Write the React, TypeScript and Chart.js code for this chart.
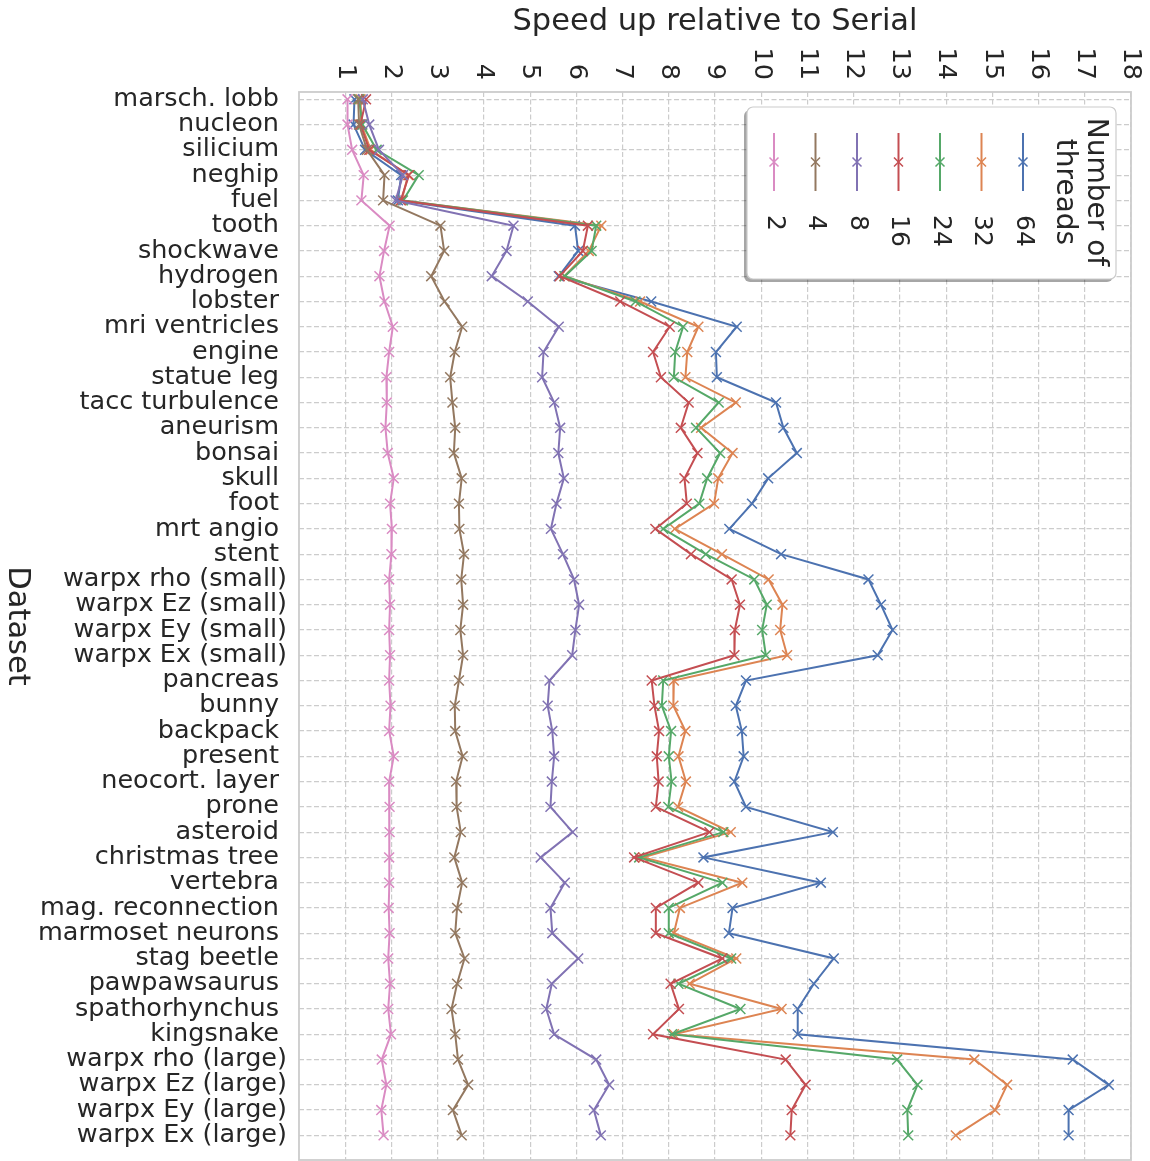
import React, { useEffect, useRef } from "react";
import { Chart, registerables } from "chart.js";

Chart.register(...registerables);

const datasetNames = [
  "marsch. lobb", "nucleon", "silicium", "neghip", "fuel", "tooth", "shockwave", "hydrogen",
  "lobster", "mri ventricles", "engine", "statue leg", "tacc turbulence", "aneurism", "bonsai",
  "skull", "foot", "mrt angio", "stent", "warpx rho (small)", "warpx Ez (small)",
  "warpx Ey (small)", "warpx Ex (small)", "pancreas", "bunny", "backpack", "present",
  "neocort. layer", "prone", "asteroid", "christmas tree", "vertebra", "mag. reconnection",
  "marmoset neurons", "stag beetle", "pawpawsaurus", "spathorhynchus", "kingsnake",
  "warpx rho (large)", "warpx Ez (large)", "warpx Ey (large)", "warpx Ex (large)",
];

const threadCounts = ["2", "4", "8", "16", "24", "32", "64"];
const xTickValues = [1, 2, 3, 4, 5, 6, 7, 8, 9, 10, 11, 12, 13, 14, 15, 16, 17, 18];

const speedup2 = [1.05, 1.05, 1.15, 1.40, 1.35, 1.96, 1.84, 1.74, 1.85, 2.03, 1.95, 1.89, 1.90, 1.87, 1.92, 2.05, 1.97, 2.01, 2.00, 1.95, 1.97, 1.95, 1.97, 1.95, 1.98, 1.95, 2.05, 1.95, 1.96, 1.96, 1.95, 1.95, 1.94, 1.96, 1.93, 1.97, 1.93, 1.99, 1.79, 1.89, 1.78, 1.83];
const speedup4 = [1.28, 1.30, 1.47, 1.85, 1.82, 3.06, 3.14, 2.86, 3.15, 3.53, 3.37, 3.27, 3.32, 3.38, 3.35, 3.52, 3.46, 3.47, 3.57, 3.51, 3.55, 3.49, 3.55, 3.46, 3.37, 3.38, 3.54, 3.40, 3.41, 3.50, 3.36, 3.53, 3.42, 3.38, 3.58, 3.42, 3.30, 3.38, 3.44, 3.66, 3.33, 3.52];
const speedup8 = [1.38, 1.52, 1.73, 2.25, 2.09, 4.64, 4.49, 4.17, 4.95, 5.62, 5.29, 5.26, 5.52, 5.65, 5.61, 5.73, 5.57, 5.45, 5.71, 5.95, 6.06, 5.98, 5.91, 5.42, 5.38, 5.48, 5.52, 5.47, 5.44, 5.92, 5.23, 5.75, 5.44, 5.48, 6.04, 5.47, 5.35, 5.52, 6.43, 6.71, 6.38, 6.53];
const speedup16 = [1.45, 1.33, 1.52, 2.38, 2.20, 6.25, 6.14, 5.64, 6.95, 8.02, 7.66, 7.83, 8.43, 8.26, 8.62, 8.34, 8.39, 7.71, 8.48, 9.36, 9.54, 9.43, 9.42, 7.63, 7.69, 7.79, 7.74, 7.78, 7.72, 8.88, 7.25, 8.64, 7.72, 7.72, 9.16, 8.04, 8.22, 7.66, 10.53, 10.96, 10.66, 10.63];
const speedup24 = [1.30, 1.37, 1.68, 2.59, 2.25, 6.43, 6.33, 5.75, 7.28, 8.31, 8.14, 8.11, 9.08, 8.59, 9.11, 8.83, 8.66, 7.88, 8.80, 9.85, 10.12, 10.02, 10.10, 7.88, 7.85, 8.05, 8.00, 8.06, 7.99, 9.18, 7.36, 9.16, 8.00, 8.00, 9.35, 8.21, 9.55, 8.07, 12.94, 13.38, 13.16, 13.18];
const speedup32 = [1.33, 1.35, 1.55, 2.36, 2.22, 6.54, 6.27, 5.74, 7.38, 8.64, 8.40, 8.36, 9.45, 8.70, 9.38, 9.07, 8.98, 8.13, 9.15, 10.16, 10.46, 10.41, 10.56, 8.11, 8.10, 8.36, 8.21, 8.37, 8.20, 9.34, 7.45, 9.59, 8.24, 8.11, 9.46, 8.45, 10.44, 8.11, 14.61, 15.32, 15.06, 14.21];
const speedup64 = [1.20, 1.18, 1.43, 2.21, 2.14, 5.97, 6.04, 5.62, 7.62, 9.47, 9.02, 9.04, 10.32, 10.48, 10.77, 10.15, 9.80, 9.31, 10.43, 12.32, 12.59, 12.84, 12.52, 9.67, 9.45, 9.58, 9.62, 9.42, 9.67, 11.55, 8.75, 11.29, 9.38, 9.30, 11.57, 11.14, 10.79, 10.79, 16.74, 17.52, 16.65, 16.65];

const seriesValues = [speedup2, speedup4, speedup8, speedup16, speedup24, speedup32, speedup64];
const seriesColors = ["#DA8BC3", "#937860", "#8172B3", "#C44E52", "#55A868", "#DD8452", "#4C72B0"];

const TEXT = "#262626";
const FONT = '"DejaVu Sans", sans-serif';

function roundRect(ctx: CanvasRenderingContext2D, x: number, y: number, w: number, h: number, r: number) {
  ctx.beginPath();
  ctx.moveTo(x + r, y);
  ctx.lineTo(x + w - r, y);
  ctx.arcTo(x + w, y, x + w, y + r, r);
  ctx.lineTo(x + w, y + h - r);
  ctx.arcTo(x + w, y + h, x + w - r, y + h, r);
  ctx.lineTo(x + r, y + h);
  ctx.arcTo(x, y + h, x, y + h - r, r);
  ctx.lineTo(x, y + r);
  ctx.arcTo(x, y, x + r, y, r);
  ctx.closePath();
}

const framePlugin = {
  id: "frame",
  beforeDatasetsDraw(chart: any) {
    const { ctx, chartArea } = chart;
    ctx.save();
    ctx.strokeStyle = "#cccccc";
    ctx.lineWidth = 1.8;
    ctx.strokeRect(chartArea.left, chartArea.top, chartArea.right - chartArea.left, chartArea.bottom - chartArea.top);
    ctx.restore();
  },
};

const textPlugin = {
  id: "texts",
  afterDraw(chart: any) {
    const { ctx, chartArea } = chart;
    const xs = chart.scales.x;
    const ys = chart.scales.y;
    ctx.save();
    ctx.fillStyle = TEXT;

    // x tick labels rotated clockwise
    ctx.font = `25.5px ${FONT}`;
    xTickValues.forEach((v) => {
      const px = xs.getPixelForValue(v);
      ctx.save();
      ctx.translate(px, 80);
      ctx.rotate(Math.PI / 2);
      ctx.textAlign = "right";
      ctx.textBaseline = "middle";
      ctx.fillText(String(v), 0, 0);
      ctx.restore();
    });

    // y tick labels
    ctx.textAlign = "right";
    ctx.textBaseline = "middle";
    datasetNames.forEach((name, i) => {
      const py = ys.getPixelForValue(i);
      const rx = name.includes("(") ? 287 : 279;
      ctx.fillText(name, rx, py);
    });

    // axis titles
    ctx.font = `30.5px ${FONT}`;
    ctx.textAlign = "center";
    ctx.textBaseline = "middle";
    ctx.fillText("Speed up relative to Serial", (chartArea.left + chartArea.right) / 2, 22);
    ctx.save();
    ctx.translate(17, (chartArea.top + chartArea.bottom) / 2);
    ctx.rotate(Math.PI / 2);
    ctx.fillText("Dataset", 0, 0);
    ctx.restore();

    // legend
    const lx = 747, ly = 107, lw = 369, lh = 172;
    ctx.fillStyle = "rgba(0,0,0,0.35)";
    roundRect(ctx, lx - 3, ly + 3, lw, lh, 6);
    ctx.fill();
    ctx.fillStyle = "#ffffff";
    roundRect(ctx, lx, ly, lw, lh, 6);
    ctx.fill();
    ctx.strokeStyle = "#cccccc";
    ctx.lineWidth = 1.2;
    ctx.stroke();

    threadCounts.forEach((t, k) => {
      const hx = 774 + k * 41.5;
      ctx.strokeStyle = seriesColors[k];
      ctx.lineWidth = 2;
      ctx.beginPath();
      ctx.moveTo(hx, 133);
      ctx.lineTo(hx, 191);
      ctx.stroke();
      ctx.lineWidth = 1.5;
      ctx.beginPath();
      ctx.moveTo(hx - 4.5, 157.5);
      ctx.lineTo(hx + 4.5, 166.5);
      ctx.moveTo(hx - 4.5, 166.5);
      ctx.lineTo(hx + 4.5, 157.5);
      ctx.stroke();
      ctx.save();
      ctx.fillStyle = TEXT;
      ctx.font = `25px ${FONT}`;
      ctx.translate(hx, 215);
      ctx.rotate(Math.PI / 2);
      ctx.textAlign = "left";
      ctx.textBaseline = "middle";
      ctx.fillText(t, 0, 0);
      ctx.restore();
    });

    ctx.fillStyle = TEXT;
    ctx.font = `28px ${FONT}`;
    ctx.textAlign = "center";
    ctx.textBaseline = "middle";
    [["Number of", 1095], ["threads", 1064]].forEach(([txt, cx]) => {
      ctx.save();
      ctx.translate(cx as number, 192);
      ctx.rotate(Math.PI / 2);
      ctx.fillText(txt as string, 0, 0);
      ctx.restore();
    });

    ctx.restore();
  },
};

export default function App() {
  const canvasRef = useRef<HTMLCanvasElement | null>(null);

  useEffect(() => {
    const canvas = canvasRef.current;
    if (!canvas) return;
    const chart = new Chart(canvas, {
      type: "line",
      data: {
        datasets: seriesValues.map((vals, k) => ({
          label: threadCounts[k],
          data: vals.map((v, i) => ({ x: v, y: i })),
          borderColor: seriesColors[k],
          backgroundColor: seriesColors[k],
          borderWidth: 2,
          pointStyle: "crossRot",
          pointRadius: 7,
          pointBorderWidth: 1.5,
          pointBorderColor: seriesColors[k],
          fill: false,
          tension: 0,
        })),
      },
      options: {
        animation: false,
        responsive: false,
        devicePixelRatio: 1,
        indexAxis: "y",
        layout: { autoPadding: false, padding: { left: 0, top: 0, right: 19, bottom: 1 } },
        plugins: { legend: { display: false }, tooltip: { enabled: false }, title: { display: false } },
        scales: {
          x: {
            type: "linear",
            position: "top",
            min: 0,
            max: 18,
            afterBuildTicks: (s: any) => {
              s.ticks = xTickValues.map((v) => ({ value: v }));
            },
            afterFit: (s: any) => {
              s.height = 92;
            },
            ticks: { display: false },
            grid: { color: "#cccccc", lineWidth: 1.2, drawTicks: false },
            border: { display: false, dash: [5, 2.5] },
          },
          y: {
            type: "linear",
            position: "left",
            reverse: true,
            min: -0.289,
            max: 41.975,
            afterBuildTicks: (s: any) => {
              s.ticks = datasetNames.map((_, i) => ({ value: i }));
            },
            afterFit: (s: any) => {
              s.width = 299;
            },
            ticks: { display: false },
            grid: { color: "#cccccc", lineWidth: 1.2, drawTicks: false },
            border: { display: false, dash: [5, 2.5] },
          },
        },
      } as any,
      plugins: [framePlugin, textPlugin],
    });
    return () => chart.destroy();
  }, []);

  return (
    <div style={{ position: "fixed", left: 0, top: 0, width: 1150, height: 1161, background: "#ffffff" }}>
      <canvas ref={canvasRef} width={1150} height={1161} style={{ display: "block", width: 1150, height: 1161 }} />
    </div>
  );
}
